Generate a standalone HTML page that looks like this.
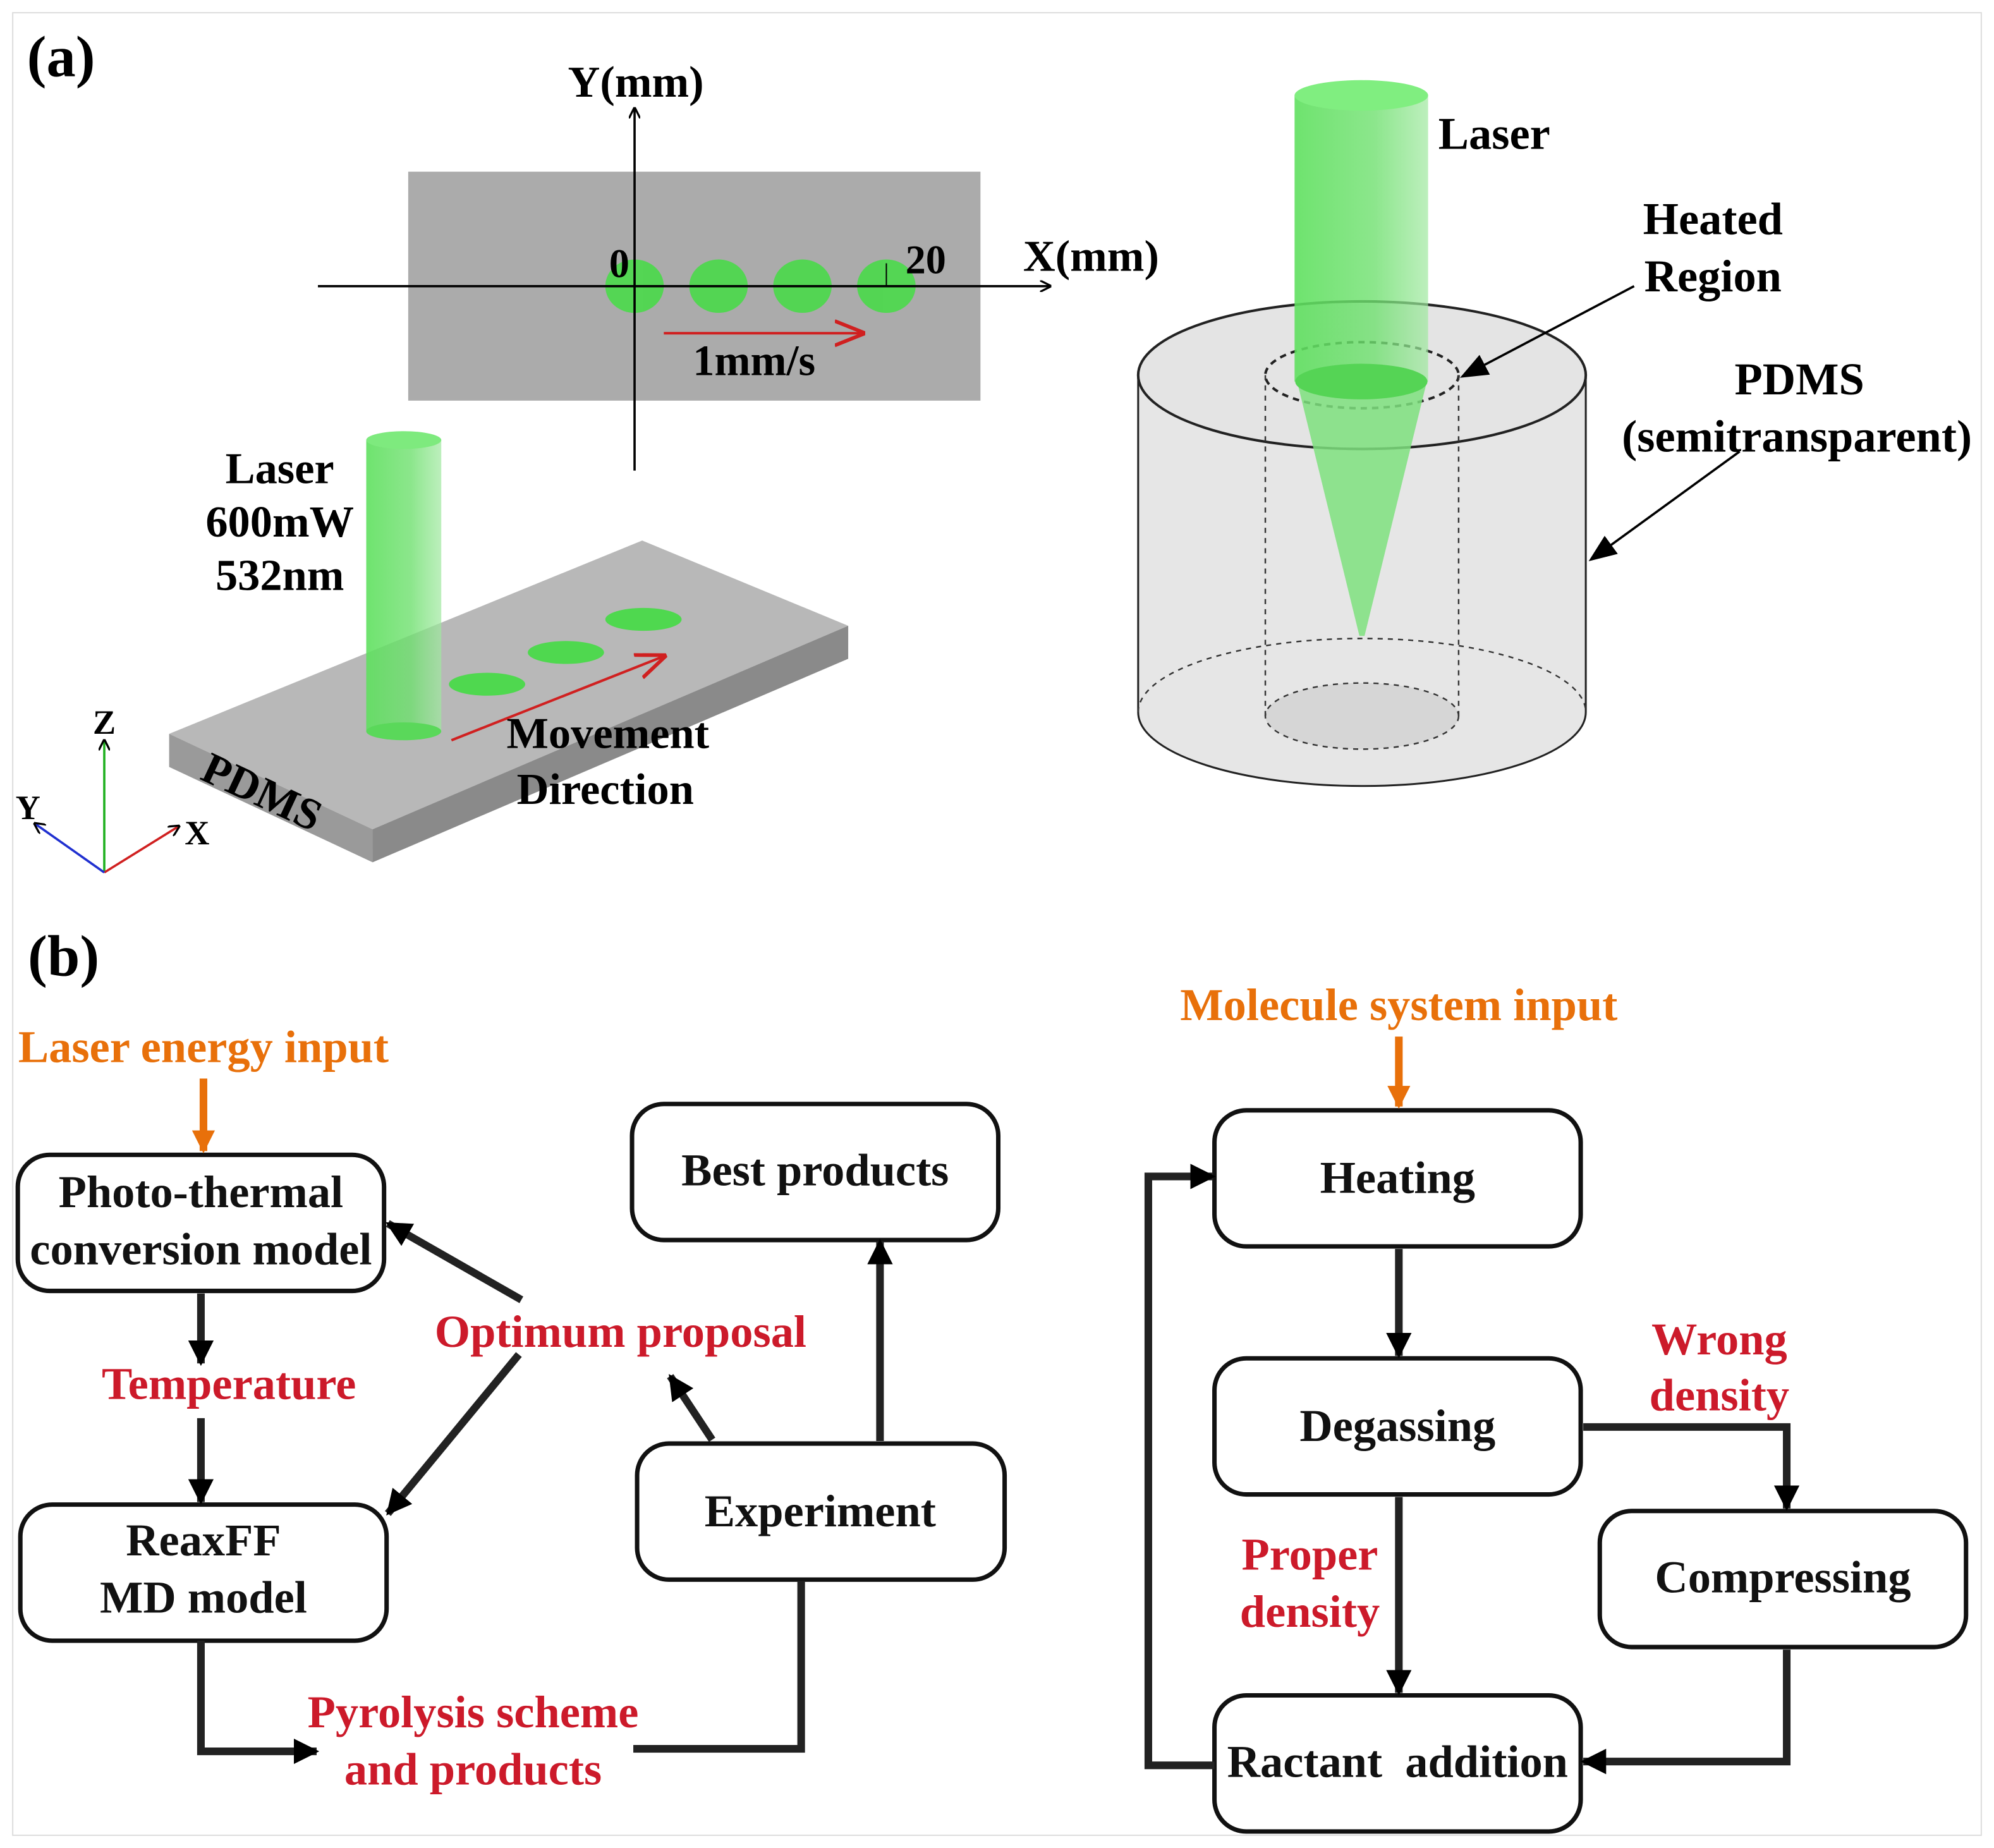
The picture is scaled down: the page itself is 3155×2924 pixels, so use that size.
<!DOCTYPE html>
<html><head><meta charset="utf-8"><style>
html,body{margin:0;padding:0;background:#fff;}
svg{display:block;}
text{font-family:"Liberation Serif",serif;font-weight:bold;}
</style></head><body>
<svg width="3155" height="2924" viewBox="0 0 1568 1453" preserveAspectRatio="none" xmlns="http://www.w3.org/2000/svg">
<defs>
<marker id="ab" viewBox="0 0 10 10" refX="8" refY="5" markerWidth="9" markerHeight="9" orient="auto" markerUnits="userSpaceOnUse"><path d="M0,0 L10,5 L0,10" fill="none" stroke="#000" stroke-width="1.8"/></marker>
<marker id="ao" viewBox="0 0 10 10" refX="9" refY="5" markerWidth="20" markerHeight="20" orient="auto" markerUnits="userSpaceOnUse"><path d="M0,0 L10,5 L0,10 Z" fill="#000"/></marker>
<marker id="ar" viewBox="0 0 10 10" refX="9" refY="5" markerWidth="24" markerHeight="24" orient="auto" markerUnits="userSpaceOnUse"><path d="M0,1 L10,5 L0,9" fill="none" stroke="#d02020" stroke-width="1.2"/></marker>
<marker id="aor" viewBox="0 0 10 10" refX="9" refY="5" markerWidth="18" markerHeight="18" orient="auto" markerUnits="userSpaceOnUse"><path d="M0,0 L10,5 L0,10 Z" fill="#e8700a"/></marker>
<marker id="ak" viewBox="0 0 10 10" refX="9" refY="5" markerWidth="22" markerHeight="22" orient="auto" markerUnits="userSpaceOnUse"><path d="M0,1 L10,5 L0,9 Z" fill="#000"/></marker>
<linearGradient id="gb" x1="0" x2="1"><stop offset="0" stop-color="#5ee05e" stop-opacity=".9"/><stop offset=".6" stop-color="#6fe06f" stop-opacity=".8"/><stop offset="1" stop-color="#a0e8a0" stop-opacity=".7"/></linearGradient>
</defs>
<rect x="10" y="10" width="1548" height="1433" fill="none" stroke="#ddd" stroke-width="1"/>
<text x="48" y="60" font-size="46" text-anchor="middle">(a)</text>
<text x="50" y="767" font-size="46" text-anchor="middle">(b)</text>

<!-- top view -->
<rect x="321" y="135" width="450" height="180" fill="#ababab"/>
<g fill="#4fd84f" opacity=".95">
<ellipse cx="499" cy="225" rx="23" ry="21"/><ellipse cx="565" cy="225" rx="23" ry="21"/>
<ellipse cx="631" cy="225" rx="23" ry="21"/><ellipse cx="697" cy="225" rx="23" ry="21"/></g>
<line x1="250" y1="225" x2="825" y2="225" stroke="#000" stroke-width="1.8" marker-end="url(#ab)"/>
<line x1="499" y1="370" x2="499" y2="86" stroke="#000" stroke-width="1.8" marker-end="url(#ab)"/>
<line x1="697" y1="225" x2="697" y2="207" stroke="#000" stroke-width="1"/>
<text x="500" y="76" font-size="35" text-anchor="middle">Y(mm)</text>
<text x="858" y="213" font-size="35" text-anchor="middle">X(mm)</text>
<text x="487" y="218" font-size="32" text-anchor="middle">0</text>
<text x="728" y="215" font-size="32" text-anchor="middle">20</text>
<line x1="522" y1="262" x2="678" y2="262" stroke="#d02020" stroke-width="2" marker-end="url(#ar)"/>
<text x="593" y="295" font-size="34" text-anchor="middle">1mm/s</text>

<!-- slab -->
<polygon points="133,577 505,425 667,492 293,652" fill="#b8b8b8"/>
<polygon points="133,577 293,652 293,678 133,603" fill="#9a9a9a"/>
<polygon points="293,652 667,492 667,518 293,678" fill="#8a8a8a"/>
<g fill="#4fd84f"><ellipse cx="383" cy="538" rx="30" ry="9"/><ellipse cx="445" cy="513" rx="30" ry="9"/><ellipse cx="506" cy="487" rx="30" ry="9"/></g>
<rect x="288" y="346" width="59" height="229" fill="url(#gb)"/>
<ellipse cx="317.5" cy="346" rx="29.5" ry="7" fill="#7eea7e"/>
<ellipse cx="317.5" cy="575" rx="29.5" ry="7" fill="#5ad85a"/>
<line x1="355" y1="582" x2="522" y2="516" stroke="#d02020" stroke-width="2" marker-end="url(#ar)"/>
<text x="220" y="380" font-size="35" text-anchor="middle">Laser</text>
<text x="220" y="422" font-size="35" text-anchor="middle">600mW</text>
<text x="220" y="464" font-size="35" text-anchor="middle">532nm</text>
<text x="478" y="588" font-size="35" text-anchor="middle">Movement</text>
<text x="476" y="632" font-size="35" text-anchor="middle">Direction</text>
<text x="205" y="634" font-size="35" text-anchor="middle" transform="rotate(25 205 625)">PDMS</text>
<line x1="82" y1="686" x2="82" y2="583" stroke="#20b020" stroke-width="1.8" marker-end="url(#ab)"/>
<line x1="82" y1="686" x2="140" y2="650" stroke="#d02020" stroke-width="1.8" marker-end="url(#ab)"/>
<line x1="82" y1="686" x2="28" y2="648" stroke="#2030d0" stroke-width="1.8" marker-end="url(#ab)"/>
<text x="82" y="577" font-size="27" text-anchor="middle">Z</text>
<text x="155" y="664" font-size="27" text-anchor="middle">X</text>
<text x="22" y="644" font-size="27" text-anchor="middle">Y</text>

<!-- cylinder -->
<path d="M895,295 L895,560 A176,58 0 0 0 1247,560 L1247,295 A176,58 0 0 0 895,295 Z" fill="#e6e6e6" stroke="#222" stroke-width="1.5"/>
<ellipse cx="1071" cy="295" rx="176" ry="58" fill="#e4e4e4" stroke="#222" stroke-width="2"/>
<path d="M895,560 A176,58 0 0 1 1247,560" fill="none" stroke="#333" stroke-width="1.2" stroke-dasharray="4,4"/>
<ellipse cx="1071" cy="563" rx="76" ry="26" fill="#d6d6d6" stroke="#333" stroke-width="1.2" stroke-dasharray="4,4"/>
<ellipse cx="1071" cy="295" rx="76" ry="26" fill="none" stroke="#222" stroke-width="2" stroke-dasharray="5,4"/>
<line x1="995" y1="295" x2="995" y2="563" stroke="#333" stroke-width="1.2" stroke-dasharray="4,4"/>
<line x1="1147" y1="295" x2="1147" y2="563" stroke="#333" stroke-width="1.2" stroke-dasharray="4,4"/>
<path d="M1020,300 L1122,300 L1073,500 L1069,500 Z" fill="#7ee07e" opacity=".85"/>
<rect x="1018" y="75" width="105" height="225" fill="url(#gb)"/>
<ellipse cx="1070.5" cy="75" rx="52.5" ry="12" fill="#80ee80"/>
<ellipse cx="1070.5" cy="300" rx="52" ry="14" fill="#55d455"/>
<text x="1175" y="117" font-size="36" text-anchor="middle">Laser</text>
<text x="1347" y="184" font-size="36" text-anchor="middle">Heated</text>
<text x="1347" y="229" font-size="36" text-anchor="middle">Region</text>
<text x="1415" y="310" font-size="36" text-anchor="middle">PDMS</text>
<text x="1413" y="355" font-size="36" text-anchor="middle">(semitransparent)</text>
<line x1="1285" y1="225" x2="1150" y2="296" stroke="#000" stroke-width="1.8" marker-end="url(#ak)"/>
<line x1="1368" y1="355" x2="1251" y2="440" stroke="#000" stroke-width="1.8" marker-end="url(#ak)"/>

<!-- (b) boxes -->
<g fill="#fff" stroke="#111" stroke-width="3.5">
<rect x="14" y="908" width="288" height="107" rx="25"/>
<rect x="16" y="1183" width="288" height="107" rx="25"/>
<rect x="497" y="868" width="288" height="107" rx="25"/>
<rect x="501" y="1135" width="289" height="107" rx="25"/>
<rect x="955" y="873" width="288" height="107" rx="25"/>
<rect x="955" y="1068" width="288" height="107" rx="25"/>
<rect x="1258" y="1188" width="288" height="107" rx="25"/>
<rect x="955" y="1333" width="288" height="107" rx="25"/>
</g>
<g font-size="36" text-anchor="middle" fill="#111">
<text x="158" y="949">Photo-thermal</text>
<text x="158" y="994">conversion model</text>
<text x="160" y="1223">ReaxFF</text>
<text x="160" y="1268">MD model</text>
<text x="641" y="932">Best products</text>
<text x="645" y="1200">Experiment</text>
<text x="1099" y="938">Heating</text>
<text x="1099" y="1133">Degassing</text>
<text x="1402" y="1252">Compressing</text>
<text x="1099" y="1397">Ractant&#160;&#160;addition</text>
</g>
<g font-size="36" text-anchor="middle" fill="#e8700a">
<text x="160" y="835">Laser energy input</text>
<text x="1100" y="802">Molecule system input</text>
</g>
<g font-size="36" text-anchor="middle" fill="#cc1a2a">
<text x="180" y="1100">Temperature</text>
<text x="488" y="1059">Optimum proposal</text>
<text x="372" y="1358">Pyrolysis scheme</text>
<text x="372" y="1403">and products</text>
<text x="1352" y="1065">Wrong</text>
<text x="1352" y="1109">density</text>
<text x="1030" y="1234">Proper</text>
<text x="1030" y="1279">density</text>
</g>
<g stroke="#e8700a" stroke-width="6" fill="none">
<line x1="160" y1="848" x2="160" y2="905" marker-end="url(#aor)"/>
<line x1="1100" y1="815" x2="1100" y2="870" marker-end="url(#aor)"/>
</g>
<g stroke="#222" stroke-width="6" fill="none" marker-end="url(#ao)">
<line x1="158" y1="1017" x2="158" y2="1072"/>
<line x1="158" y1="1115" x2="158" y2="1181"/>
<line x1="410" y1="1022" x2="305" y2="962"/>
<line x1="408" y1="1065" x2="305" y2="1190"/>
<line x1="560" y1="1132" x2="527" y2="1082"/>
<line x1="692" y1="1133" x2="692" y2="976"/>
<polyline points="158,1290 158,1377 249,1377"/>
<polyline points="498,1375 630,1375 630,1243" marker-end="none"/>
<line x1="1100" y1="982" x2="1100" y2="1066"/>
<line x1="1100" y1="1177" x2="1100" y2="1331"/>
<polyline points="1245,1122 1405,1122 1405,1186"/>
<polyline points="1405,1297 1405,1385 1245,1385"/>
<polyline points="955,1388 903,1388 903,925 954,925"/>
</g>
</svg>
</body></html>
